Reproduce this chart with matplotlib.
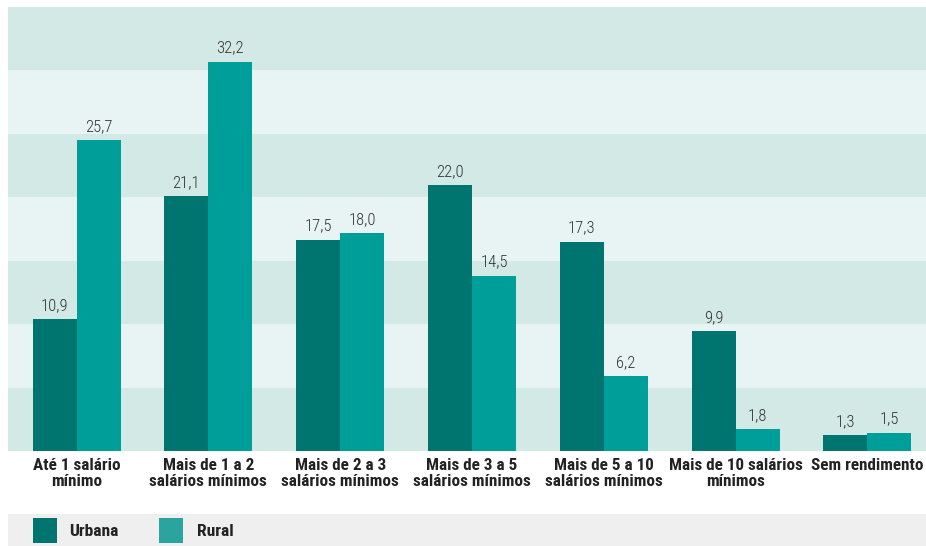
import matplotlib
matplotlib.use("Agg")
import matplotlib.pyplot as plt
from matplotlib.patches import Rectangle
from matplotlib import font_manager as fm
import numpy as np
import os

categories = ["Até 1 salário\nmínimo", "Mais de 1 a 2\nsalários mínimos", "Mais de 2 a 3\nsalários mínimos",
              "Mais de 3 a 5\nsalários mínimos", "Mais de 5 a 10\nsalários mínimos",
              "Mais de 10 salários\nmínimos", "Sem rendimento"]
urbana = [10.9, 21.1, 17.5, 22.0, 17.3, 9.9, 1.3]
rural = [25.7, 32.2, 18.0, 14.5, 6.2, 1.8, 1.5]
series_names = ["Urbana", "Rural"]

files = [f.fname for f in fm.fontManager.ttflist]
files += fm.findSystemFonts()

def find(keys):
    for k in keys:
        for f in files:
            if os.path.basename(f).lower().replace("_", "").replace("-", "") == k:
                return f
    return None

bold_file = find(["liberationsansnarrowbold.ttf", "robotocondensedbold.ttf",
                  "dejavusanscondensedbold.ttf", "opensanscondensedbold.ttf"])
reg_file = find(["liberationsansnarrowregular.ttf", "robotocondensedlight.ttf",
                 "robotocondensedregular.ttf", "dejavusanscondensed.ttf",
                 "opensanscondensedlight.ttf"])
if bold_file:
    fp_bold = fm.FontProperties(fname=bold_file, size=12.3)
    fp_bold_leg = fm.FontProperties(fname=bold_file, size=12.6)
else:
    fp_bold = fm.FontProperties(family="DejaVu Sans", weight="bold", size=10)
    fp_bold_leg = fm.FontProperties(family="DejaVu Sans", weight="bold", size=11)
if reg_file:
    fp_val = fm.FontProperties(fname=reg_file, size=12)
else:
    fp_val = fm.FontProperties(family="DejaVu Sans", size=10.5)

c_urb = "#00756f"
c_rur = "#009e99"
c_rur_leg = "#2ba39f"
band_dark = "#d2e9e6"
band_light = "#e8f4f3"

W, H = 926, 546
fig = plt.figure(figsize=(W/100, H/100), dpi=100)
ax = fig.add_axes([8/W, 1-451/H, (926-8)/W, (451-7)/H])

ymax = 36.74
ax.set_ylim(0, ymax)
ax.set_xlim(-0.52, 6.445)
nb = 7
for i in range(nb):
    col = band_dark if i % 2 == 0 else band_light
    ax.axhspan(i*ymax/nb, (i+1)*ymax/nb, color=col, lw=0, zorder=0)

x = np.arange(len(categories))
w = 0.334
ax.bar(x - w/2, urbana, w, color=c_urb, zorder=2, lw=0)
ax.bar(x + w/2, rural, w, color=c_rur, zorder=2, lw=0)

def fmt(v):
    return f"{v:.1f}".replace(".", ",")

for xi, v in zip(x - w/2, urbana):
    ax.annotate(fmt(v), (xi, v), xytext=(0, 4.5), textcoords="offset points",
                ha="center", va="bottom", color="#333333", fontproperties=fp_val)
for xi, v in zip(x + w/2, rural):
    ax.annotate(fmt(v), (xi, v), xytext=(0, 4.5), textcoords="offset points",
                ha="center", va="bottom", color="#333333", fontproperties=fp_val)

ax.set_xticks(x)
ax.set_xticklabels(categories, fontproperties=fp_bold, color="#222222", linespacing=1.08)
ax.tick_params(axis="x", length=0, pad=5)
ax.set_yticks([])
for s in ax.spines.values():
    s.set_visible(False)

# legend band
lax = fig.add_axes([8/W, 0, (926-8)/W, 32/H])
lax.set_xlim(8, 926)
lax.set_ylim(546, 514)
lax.axis("off")
lax.add_patch(Rectangle((8, 514), 918, 32, color="#efefef", lw=0))
lax.add_patch(Rectangle((33, 518), 24, 25, color=c_urb, lw=0))
lax.add_patch(Rectangle((159, 518), 24, 25, color=c_rur_leg, lw=0))
lax.text(69, 531, series_names[0], fontproperties=fp_bold_leg,
         color="#222222", va="center", ha="left")
lax.text(197, 531, series_names[1], fontproperties=fp_bold_leg,
         color="#222222", va="center", ha="left")

fig.savefig("out.png", dpi=100)
